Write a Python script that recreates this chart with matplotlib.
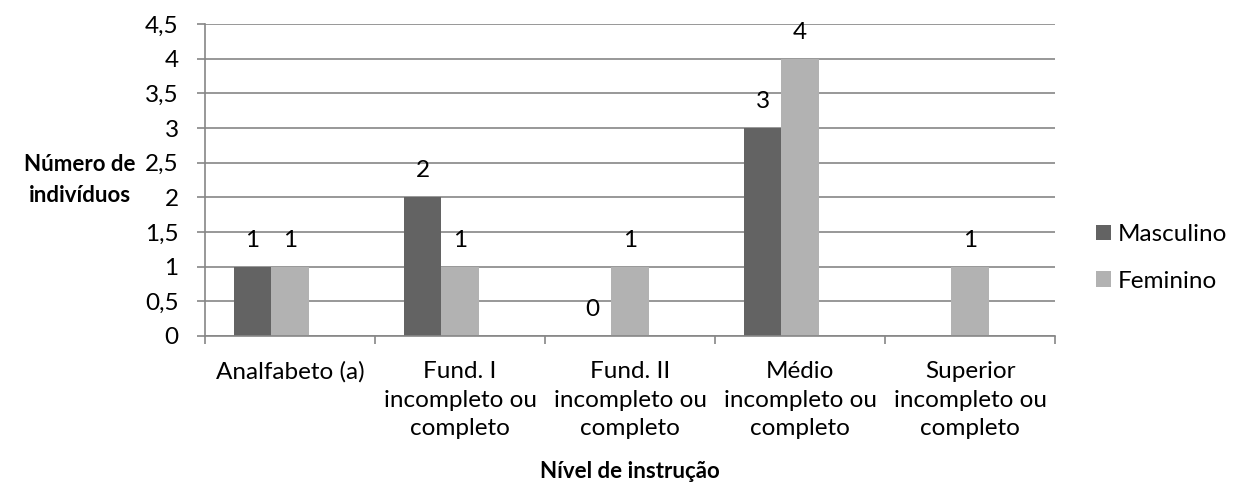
import numpy as np
import matplotlib.pyplot as plt

plt.rcParams['font.family'] = ['Lato', 'DejaVu Sans']

categories = ["Analfabeto (a)",
              "Fund. I\nincompleto ou\ncompleto",
              "Fund. II\nincompleto ou\ncompleto",
              "Médio\nincompleto ou\ncompleto",
              "Superior\nincompleto ou\ncompleto"]
masculino = [1, 2, 0, 3, None]
feminino  = [1, 1, 1, 4, 1]
y_ticks   = [0, 0.5, 1, 1.5, 2, 2.5, 3, 3.5, 4, 4.5]

C_MASC = "#636363"
C_FEM  = "#b2b2b2"
C_GRID = "#868686"
FS = 17.5
FS_BOLD = 16

fig = plt.figure(figsize=(12.39, 4.86), dpi=100)
ax = fig.add_axes([205/1239, 1 - 336/486, 850/1239, 312/486])

x = np.arange(len(categories))
w = 0.22
# excel clustered layout: 3 slots per group, third is empty
pos_m = x - w
pos_f = x

m_vals = [0 if v is None else v for v in masculino]
ax.bar(pos_m, m_vals, width=w, color=C_MASC, label="Masculino", zorder=2)
ax.bar(pos_f, feminino, width=w, color=C_FEM, label="Feminino", zorder=2)

# value labels
for px, v in zip(pos_m, masculino):
    if v is not None:
        ax.text(px, v + 0.38, f"{v}", ha="center", va="center", fontsize=FS)
for px, v in zip(pos_f, feminino):
    ax.text(px, v + 0.38, f"{v}", ha="center", va="center", fontsize=FS)

ax.set_xlim(-0.5, len(categories) - 0.5)
ax.set_ylim(0, 4.5)
ax.set_yticks(y_ticks)
ax.set_yticklabels([f"{t:g}".replace(".", ",") for t in y_ticks], fontsize=FS)
ax.yaxis.grid(True, color=C_GRID, linewidth=1.2, zorder=0)
ax.set_axisbelow(True)

# category ticks sit on the boundaries, labels in between
ax.set_xticks(np.arange(len(categories) + 1) - 0.5)
ax.set_xticklabels([])
ax.set_xticks(x, minor=True)
ax.set_xticklabels(categories, minor=True, fontsize=FS, linespacing=1.45)
ax.tick_params(axis="x", which="minor", length=0, pad=18)
ax.tick_params(axis="x", which="major", length=6, color=C_GRID, width=1.2)
ax.tick_params(axis="y", length=6, color=C_GRID, width=1.2, pad=13)

for s in ["top", "right"]:
    ax.spines[s].set_visible(False)
for s in ["left", "bottom"]:
    ax.spines[s].set_color(C_GRID)
    ax.spines[s].set_linewidth(1.2)

fig.text(80/1239, 1 - 180/486, "Número de\nindivíduos", ha="center", va="center",
         fontsize=FS_BOLD, fontweight="bold", linespacing=1.6)
fig.text(630/1239, 1 - 471/486, "Nível de instrução", ha="center", va="center",
         fontsize=FS_BOLD, fontweight="bold")

fig.legend(loc="center left", bbox_to_anchor=(1096/1239, 1 - 258/486), frameon=False,
           fontsize=17.5, handlelength=0.6, handleheight=0.6, handletextpad=0.3,
           labelspacing=1.05, borderpad=0, borderaxespad=0)

fig.savefig("out.png", dpi=100)
